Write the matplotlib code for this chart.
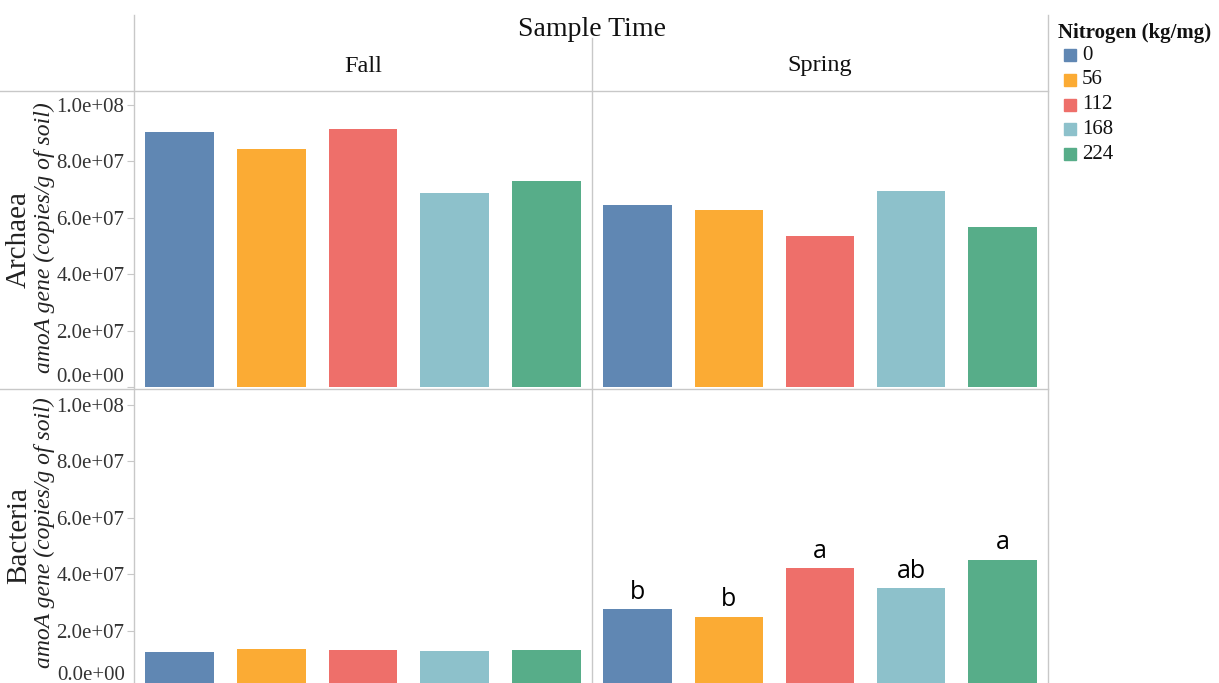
import matplotlib.pyplot as plt
from matplotlib.lines import Line2D
from matplotlib.patches import Rectangle

# amoA gene copies per gram of soil, by nitrogen rate
nitrogen = ["0", "56", "112", "168", "224"]
seasons = ["Fall", "Spring"]
archaea = {
    "Fall": [9.04e7, 8.44e7, 9.13e7, 6.86e7, 7.30e7],
    "Spring": [6.45e7, 6.25e7, 5.35e7, 6.93e7, 5.66e7],
}
bacteria = {
    "Fall": [1.24e7, 1.35e7, 1.32e7, 1.28e7, 1.32e7],
    "Spring": [2.77e7, 2.49e7, 4.22e7, 3.49e7, 4.51e7],
}
# significance letters for spring bacteria
spring_letters = ["b", "b", "a", "ab", "a"]
colors = ["#6087b3", "#fbab34", "#ee6f6a", "#8dc1cb", "#57ad89"]
yticks = [0, 2e7, 4e7, 6e7, 8e7, 1e8]

W, H = 1219, 683
fig = plt.figure(figsize=(W / 100, H / 100), dpi=100)
serif = "Liberation Serif"
grid_col = "#c8c8c8"


def px_axes(x0, y0, x1, y1):
    # axes from pixel box (top-left origin)
    return fig.add_axes([x0 / W, 1 - y1 / H, (x1 - x0) / W, (y1 - y0) / H])


def px_line(xs, ys):
    fig.add_artist(Line2D([x / W for x in xs], [1 - y / H for y in ys],
                          color=grid_col, lw=1.0, transform=fig.transFigure))


cols = [(134, 592), (592, 1048)]
rows = [(91, 389, (-0.07e7, 1.048e8), archaea, "Archaea"),
        (389, 687, (0, 1.055e8), bacteria, "Bacteria")]

for r, (y0, y1, ylim, data, name) in enumerate(rows):
    for c, (x0, x1) in enumerate(cols):
        ax = px_axes(x0, y0, x1, y1)
        season = seasons[c]
        bars = ax.bar(range(len(nitrogen)), data[season], width=0.75, color=colors)
        ax.set_xlim(-0.5, 4.5)
        ax.set_ylim(*ylim)
        for s in ax.spines.values():
            s.set_visible(False)
        ax.set_xticks([])
        if c == 0:
            labels = [f"{v:.1e}" for v in yticks]
            if r == 1:
                # zero label of the bottom row sits below the page edge; drawn separately
                labels[0] = ""
            ax.set_yticks(yticks)
            ax.set_yticklabels(labels, fontfamily=serif, fontsize=15, color="#333333")
            ax.tick_params(axis="y", length=5, color=grid_col, pad=2)
            ax.get_yticklabels()[0].set_verticalalignment("bottom")
        else:
            ax.set_yticks([])
        if r == 1 and season == "Spring":
            for b, lab in zip(bars, spring_letters):
                ax.annotate(lab, (b.get_x() + b.get_width() / 2, b.get_height()),
                            xytext=(0, 3), textcoords="offset points",
                            ha="center", va="bottom", fontsize=18,
                            fontfamily="Open Sans", color="black")

    # row labels
    yc = 240 if r == 0 else 535
    fig.text(19 / W, 1 - yc / H, name, rotation=90, ha="center", va="center",
             fontfamily=serif, fontsize=21, color="#222222")
    fig.text(44 / W, 1 - (yc - 2) / H, "amoA gene (copies/g of soil)", rotation=90,
             ha="center", va="center", fontfamily=serif, fontstyle="italic",
             fontsize=17, color="#222222")

fig.text(125 / W, 1 - 675 / H, f"{yticks[0]:.1e}", ha="right", va="center",
         fontfamily=serif, fontsize=15, color="#333333")

# frame lines
px_line([0, 1048], [91, 91])
px_line([0, 1048], [389, 389])
px_line([134, 134], [15, 683])
px_line([592, 592], [38, 683])
px_line([1048, 1048], [15, 683])

# column headers
fig.text(592 / W, 1 - 29 / H, "Sample Time", ha="center", va="center",
         fontfamily=serif, fontsize=20, color="#111111")
for (x0, x1), season in zip(cols, seasons):
    fig.text((x0 + x1) / 2 / W, 1 - 66 / H, season, ha="center", va="center",
             fontfamily=serif, fontsize=17.5, color="#111111")

# legend
fig.text(1058 / W, 1 - 33 / H, "Nitrogen (kg/mg)", ha="left", va="center",
         fontfamily=serif, fontweight="bold", fontsize=15, color="#111111")
for i, (lab, col) in enumerate(zip(nitrogen, colors)):
    yc = 55 + i * 24.8
    fig.add_artist(Rectangle((1064 / W, 1 - (yc + 6) / H), 12 / W, 12 / H,
                             color=col, transform=fig.transFigure))
    fig.text(1082 / W, 1 - yc / H, lab, ha="left", va="center",
             fontfamily=serif, fontsize=15, color="#111111")

fig.savefig("out.png", dpi=100)
